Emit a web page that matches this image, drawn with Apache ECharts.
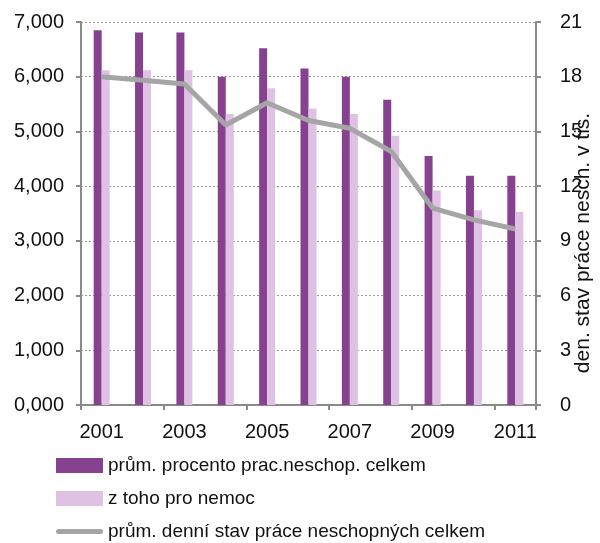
<!DOCTYPE html>
<html>
<head>
<meta charset="utf-8">
<script src="https://cdn.jsdelivr.net/npm/echarts@6/dist/echarts.min.js"></script>
<style>
  html, body { margin: 0; padding: 0; background: #fff; }
  #chart { width: 600px; height: 543px; }
</style>
</head>
<body>
<div id="chart"></div>
<script>
// years on the x axis
const years = ['2001', '2002', '2003', '2004', '2005', '2006', '2007', '2008', '2009', '2010', '2011'];
// prům. procento prac.neschop. celkem (left axis, %)
const pctTotal = [6.85, 6.81, 6.81, 6.00, 6.52, 6.15, 6.00, 5.58, 4.55, 4.19, 4.19];
// z toho pro nemoc (left axis, %)
const pctIllness = [6.12, 6.12, 6.12, 5.32, 5.79, 5.42, 5.32, 4.92, 3.92, 3.56, 3.53];
// prům. denní stav práce neschopných celkem (right axis, tis.)
const dailyCount = [18.0, 17.8, 17.6, 15.35, 16.57, 15.6, 15.17, 13.9, 10.8, 10.15, 9.65];

const names = [
  'prům. procento prac.neschop. celkem',
  'z toho pro nemoc',
  'prům. denní stav práce neschopných celkem'
];

const chart = echarts.init(document.getElementById('chart'));
const axisGray = '#898989';
const font = 'Liberation Sans, Arial, sans-serif';

// one legend block per row so rows sit where the reference has them
const legendRow = (name, icon, top, left) => ({
  orient: 'vertical',
  left: left,
  top: top,
  itemWidth: 47,
  itemHeight: 15,
  itemGap: 0,
  textStyle: { fontSize: 19, color: '#111', fontFamily: font },
  data: [{ name: name, icon: icon }]
});

chart.setOption({
  animation: false,
  textStyle: { fontFamily: font },
  grid: { left: 81, right: 64, top: 22, bottom: 138, outerBoundsMode: 'none' },
  legend: [
    legendRow(names[0], 'rect', 451, 51),
    legendRow(names[1], 'rect', 484, 51),
    legendRow(names[2], 'path://M2.5,0 L44.5,0 A2.5,2.5 0 0 1 44.5,5 L2.5,5 A2.5,2.5 0 0 1 2.5,0 Z', 517, 51)
  ],
  xAxis: {
    type: 'category',
    data: years,
    axisLine: { lineStyle: { color: axisGray, width: 2 } },
    axisTick: { show: true, length: 5, lineStyle: { color: axisGray, width: 2 } },
    axisLabel: { interval: 1, fontSize: 20, color: '#111', margin: 17 }
  },
  yAxis: [
    {
      type: 'value',
      min: 0, max: 7, interval: 1,
      axisLine: { show: true, lineStyle: { color: axisGray, width: 2 } },
      axisTick: { show: true, length: 5, lineStyle: { color: axisGray, width: 2 } },
      axisLabel: {
        fontSize: 20, color: '#111', margin: 17,
        formatter: v => v.toFixed(3).replace('.', ',')
      },
      splitLine: { lineStyle: { color: '#9a9a9a', type: [2, 2], width: 1 } }
    },
    {
      type: 'value',
      min: 0, max: 21, interval: 3,
      position: 'right',
      axisLine: { show: true, lineStyle: { color: axisGray, width: 2 } },
      axisTick: { show: true, length: 5, lineStyle: { color: axisGray, width: 2 } },
      axisLabel: { fontSize: 20, color: '#111', margin: 18, align: 'left', padding: [0, 0, 0, 6] },
      splitLine: { show: false }
    }
  ],
  graphic: [
    {
      // right axis title, reads bottom to top
      type: 'text',
      x: 583,
      y: 243,
      rotation: Math.PI / 2,
      style: {
        text: 'den. stav práce nesch. v tis.',
        fontSize: 21,
        fontFamily: font,
        fill: '#111',
        align: 'center',
        verticalAlign: 'middle'
      }
    }
  ],
  series: [
    {
      name: names[0],
      type: 'bar',
      data: pctTotal,
      barWidth: 8,
      barGap: '0%',
      itemStyle: { color: '#86418f' }
    },
    {
      name: names[1],
      type: 'bar',
      data: pctIllness,
      barWidth: 8,
      itemStyle: { color: '#dec1e3' }
    },
    {
      name: names[2],
      type: 'line',
      yAxisIndex: 1,
      data: dailyCount,
      symbol: 'none',
      lineStyle: { color: '#a5a5a5', width: 5 },
      itemStyle: { color: '#a5a5a5' }
    }
  ]
});
</script>
</body>
</html>
